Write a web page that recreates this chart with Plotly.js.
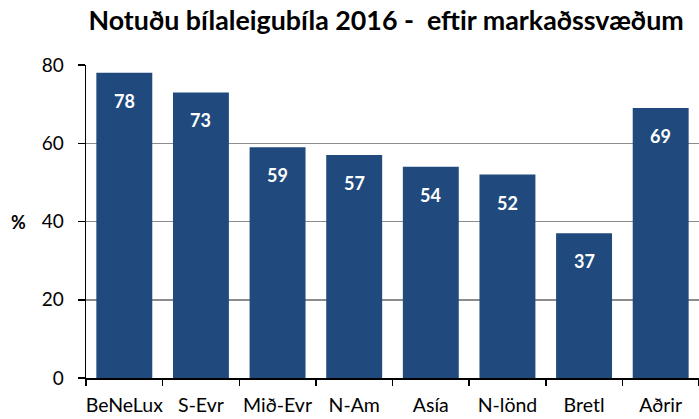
<!DOCTYPE html>
<html>
<head>
<meta charset="utf-8">
<script src="https://cdn.plot.ly/plotly-3.0.1.min.js"></script>
<style>html,body{margin:0;padding:0;background:#fff;}#chart{width:699px;height:419px;}</style>
</head>
<body>
<div id="chart"></div>
<script>
const categories = ["BeNeLux", "S-Evr", "Mið-Evr", "N-Am", "Asía", "N-lönd", "Bretl", "Aðrir"];
const values = [78, 73, 59, 57, 54, 52, 37, 69];
const yTicks = [0, 20, 40, 60, 80];

const FONT = "Lato, Carlito, Calibri, 'Open Sans', sans-serif";

const trace = {
  type: "bar",
  x: categories,
  y: values,
  marker: {color: "#204A7D"},
  hoverinfo: "none"
};

const annotations = categories.map((c, i) => ({
  x: c, y: values[i], xref: "x", yref: "y",
  text: "<b>" + values[i] + "</b>",
  showarrow: false, yanchor: "middle", yshift: -28,
  font: {family: FONT, size: 18, color: "#ffffff"}
}));
annotations.push({
  xref: "paper", yref: "paper", x: -0.11, y: 0.5,
  xanchor: "center", yanchor: "middle",
  text: "<b>%</b>", showarrow: false,
  font: {family: FONT, size: 18, color: "#000"}
});

const layout = {
  width: 699, height: 419,
  margin: {l: 86, r: 0, t: 65, b: 41},
  paper_bgcolor: "#fff", plot_bgcolor: "#fff",
  bargap: 0.27,
  showlegend: false,
  title: {
    text: "<b>Notuðu bílaleigubíla 2016 -  eftir markaðssvæðum</b>",
    font: {family: FONT, size: 26.8, color: "#000"},
    xref: "paper", x: 0.004, xanchor: "left", y: 0.95, yanchor: "middle"
  },
  xaxis: {
    showline: true, linecolor: "#000", linewidth: 1.5,
    ticks: "outside", tickson: "boundaries", ticklen: 6, tickcolor: "#000", tickwidth: 1.5,
    tickfont: {family: FONT, size: 19.5, color: "#000"},
    tickangle: 0, automargin: false,
    ticklabelstandoff: 9,
    showgrid: false, fixedrange: true
  },
  yaxis: {
    range: [0, 80], tickvals: yTicks,
    showline: true, linecolor: "#000", linewidth: 1.5,
    ticks: "outside", ticklen: 7, tickcolor: "#000", tickwidth: 1.5,
    tickfont: {family: FONT, size: 19, color: "#000"},
    ticklabelstandoff: 10,
    showgrid: true, gridcolor: "#8c8c8c", gridwidth: 1.5,
    zeroline: false, fixedrange: true
  },
  annotations: annotations
};

Plotly.newPlot("chart", [trace], layout, {displayModeBar: false, staticPlot: true});
</script>
</body>
</html>
